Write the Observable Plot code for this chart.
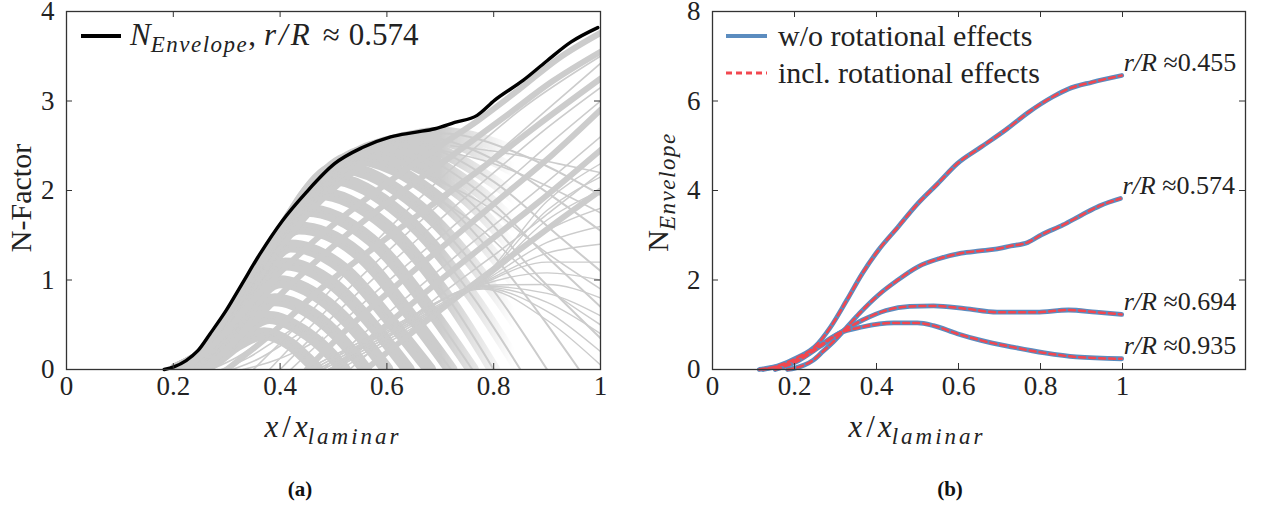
<!DOCTYPE html>
<html><head><meta charset="utf-8">
<script src="https://cdn.jsdelivr.net/npm/d3@7"></script>
<script src="https://cdn.jsdelivr.net/npm/@observablehq/plot@0.6"></script>
<style>
body{margin:0;background:#fff;width:1262px;height:508px;overflow:hidden;font-family:"Liberation Serif",serif;}
#a{position:absolute;left:0;top:0}
#b{position:absolute;left:640px;top:0}
.cap{position:absolute;top:477px;width:60px;text-align:center;font:bold 21px "Liberation Serif",serif;color:#111}
</style></head><body>
<div id="a"></div><div id="b"></div>
<div class="cap" style="left:270px">(a)</div>
<div class="cap" style="left:920px">(b)</div>
<script>
// ---------- data ----------
const xTicks = [0, 0.2, 0.4, 0.6, 0.8, 1];
const yTicksA = [0, 1, 2, 3, 4];
const yTicksB = [0, 2, 4, 6, 8];

// N-factor envelope at r/R ≈ 0.574 (panel a, black; panel b, second curve)
const envelope574 = [[0.183,0],[0.201,0.03],[0.224,0.1],[0.246,0.21],[0.269,0.40],[0.299,0.66],[0.329,0.96],[0.359,1.26],[0.404,1.66],[0.449,1.98],[0.502,2.30],[0.554,2.48],[0.607,2.60],[0.652,2.65],[0.690,2.69],[0.727,2.76],[0.769,2.84],[0.802,3.01],[0.855,3.23],[0.900,3.45],[0.945,3.66],[0.995,3.82]];

// individual N-factor curves (panel a, gray): modes that grow, peak and decay
const grayArcs = [
 [[0.245,0],[0.28,0.10],[0.32,0.28],[0.37,0.40],[0.42,0.28],[0.45,0.12],[0.47,0]],
 [[0.235,0],[0.27,0.08],[0.32,0.36],[0.38,0.58],[0.44,0.44],[0.49,0.20],[0.52,0]],
 [[0.228,0],[0.265,0.09],[0.32,0.45],[0.39,0.78],[0.46,0.62],[0.52,0.30],[0.56,0]],
 [[0.222,0],[0.26,0.10],[0.32,0.52],[0.40,0.98],[0.48,0.78],[0.55,0.38],[0.60,0]],
 [[0.216,0],[0.26,0.12],[0.32,0.58],[0.41,1.18],[0.50,0.95],[0.58,0.45],[0.64,0]],
 [[0.212,0],[0.26,0.14],[0.33,0.70],[0.42,1.38],[0.52,1.12],[0.61,0.52],[0.68,0]],
 [[0.21,0],[0.26,0.16],[0.33,0.76],[0.435,1.58],[0.545,1.30],[0.645,0.60],[0.72,0]],
 [[0.208,0],[0.26,0.17],[0.34,0.86],[0.45,1.78],[0.57,1.45],[0.68,0.68],[0.76,0]],
 [[0.207,0],[0.26,0.18],[0.34,0.88],[0.47,1.97],[0.60,1.60],[0.72,0.75],[0.80,0]],
 [[0.206,0],[0.26,0.19],[0.35,0.97],[0.49,2.14],[0.63,1.72],[0.76,0.82],[0.85,0]],
 [[0.205,0],[0.26,0.19],[0.35,0.99],[0.51,2.26],[0.66,1.82],[0.80,0.88],[0.90,0]],
 [[0.205,0],[0.26,0.19],[0.36,1.08],[0.535,2.36],[0.70,1.90],[0.85,0.90],[0.96,0]],
 [[0.205,0],[0.26,0.19],[0.37,1.17],[0.56,2.43],[0.74,1.95],[0.89,1.00],[1.0,0.35]],
 [[0.205,0],[0.26,0.19],[0.37,1.17],[0.59,2.50],[0.77,2.00],[0.91,1.20],[1.0,0.70]],
 [[0.205,0],[0.26,0.19],[0.38,1.27],[0.62,2.55],[0.80,2.10],[0.92,1.50],[1.0,1.10]],
 [[0.205,0],[0.26,0.19],[0.38,1.27],[0.66,2.60],[0.83,2.25],[0.93,1.85],[1.0,1.55]],
 [[0.205,0],[0.26,0.19],[0.39,1.36],[0.70,2.64],[0.86,2.38],[0.94,2.15],[1.0,1.95]]
];
// later-growing modes (panel a, gray bands) – keep rising towards the trailing edge
const grayRisers = [
 [[0.22,0],[0.28,0.30],[0.35,0.78],[0.42,1.20],[0.50,1.62],[0.60,2.08],[0.70,2.50],[0.77,2.78],[0.85,3.14],[0.92,3.47],[1.0,3.76]],
 [[0.26,0],[0.33,0.40],[0.42,0.95],[0.52,1.48],[0.62,1.95],[0.72,2.38],[0.82,2.82],[0.91,3.22],[1.0,3.55]],
 [[0.30,0],[0.38,0.38],[0.48,0.92],[0.58,1.38],[0.68,1.82],[0.78,2.26],[0.88,2.72],[1.0,3.25]],
 [[0.45,0],[0.52,0.42],[0.62,0.95],[0.72,1.45],[0.82,1.95],[0.91,2.40],[1.0,2.90]],
 [[0.50,0],[0.58,0.40],[0.68,0.90],[0.78,1.38],[0.88,1.85],[1.0,2.45]],
 [[0.56,0],[0.64,0.38],[0.74,0.85],[0.84,1.30],[0.93,1.70],[1.0,2.00]]
];
// thin individual curves (panel a, gray)
const grayThin = [
 [[0.35,0],[0.45,0.60],[0.55,1.25],[0.65,1.85],[0.75,2.40],[0.85,2.90],[1.0,3.50]],
 [[0.38,0],[0.48,0.62],[0.58,1.20],[0.68,1.75],[0.78,2.28],[0.88,2.80],[1.0,3.42]],
 [[0.40,0],[0.50,0.60],[0.60,1.15],[0.70,1.68],[0.80,2.20],[0.90,2.70],[1.0,3.15]],
 [[0.42,0],[0.52,0.55],[0.62,1.08],[0.72,1.58],[0.82,2.08],[0.91,2.55],[1.0,3.00]],
 [[0.48,0],[0.56,0.42],[0.66,0.92],[0.76,1.42],[0.86,1.90],[1.0,2.60]],
 [[0.53,0],[0.61,0.40],[0.71,0.88],[0.81,1.32],[0.91,1.78],[1.0,2.20]],
 [[0.27,0],[0.32,0.14],[0.37,0.34],[0.41,0.50]],
 [[0.29,0],[0.34,0.13],[0.39,0.32],[0.43,0.48]],
 [[0.31,0],[0.36,0.12],[0.41,0.30],[0.45,0.46]],
 [[0.33,0],[0.38,0.08],[0.43,0.20],[0.48,0.36]],
 [[0.70,2.45],[0.80,2.30],[0.90,2.05],[1.0,1.75]],
 [[0.72,2.50],[0.82,2.42],[0.92,2.30],[1.0,2.20]],
 [[0.66,2.20],[0.78,1.85],[0.90,1.30],[1.0,0.90]],
 [[0.64,2.10],[0.76,1.65],[0.88,1.00],[1.0,0.50]]
];
// fan of curves spreading out after x ≈ 0.78 (panel a, thin gray)
const grayFan = [
 [[0.45,0],[0.60,0.45],[0.78,0.90],[0.90,0.55],[1.0,0.05]],
 [[0.45,0],[0.60,0.45],[0.78,0.91],[0.90,0.65],[1.0,0.20]],
 [[0.46,0],[0.61,0.46],[0.78,0.92],[0.90,0.75],[1.0,0.40]],
 [[0.46,0],[0.61,0.46],[0.78,0.93],[0.90,0.85],[1.0,0.60]],
 [[0.47,0],[0.62,0.47],[0.78,0.94],[0.90,0.95],[1.0,0.80]],
 [[0.47,0],[0.62,0.47],[0.78,0.95],[0.90,1.08],[1.0,1.00]],
 [[0.48,0],[0.63,0.48],[0.78,0.96],[0.90,1.20],[1.0,1.20]],
 [[0.48,0],[0.63,0.48],[0.78,0.97],[0.90,1.30],[1.0,1.40]],
 [[0.49,0],[0.64,0.49],[0.78,0.98],[0.90,1.42],[1.0,1.60]],
 [[0.49,0],[0.64,0.49],[0.78,0.99],[0.90,1.55],[1.0,1.80]],
 [[0.50,0],[0.65,0.50],[0.78,1.00],[0.90,1.67],[1.0,2.00]],
 [[0.50,0],[0.65,0.50],[0.78,1.01],[0.90,1.78],[1.0,2.15]],
 [[0.51,0],[0.66,0.51],[0.78,1.02],[0.90,1.88],[1.0,2.30]]
];

// panel b: N envelope for four radial stations
const env455 = [[0.114,0],[0.162,0.09],[0.21,0.28],[0.249,0.50],[0.288,0.95],[0.327,1.54],[0.365,2.14],[0.404,2.66],[0.452,3.18],[0.50,3.70],[0.549,4.15],[0.597,4.60],[0.655,4.97],[0.713,5.34],[0.771,5.75],[0.829,6.09],[0.868,6.27],[0.926,6.42],[0.998,6.57]];
const env694 = [[0.153,0],[0.21,0.20],[0.26,0.50],[0.307,0.80],[0.365,1.10],[0.423,1.32],[0.481,1.41],[0.539,1.42],[0.616,1.36],[0.694,1.28],[0.79,1.28],[0.868,1.33],[0.935,1.28],[0.998,1.23]];
const env935 = [[0.124,0],[0.19,0.16],[0.249,0.46],[0.307,0.80],[0.365,0.95],[0.442,1.04],[0.50,1.04],[0.539,0.98],[0.597,0.80],[0.655,0.65],[0.732,0.50],[0.81,0.37],[0.887,0.28],[0.998,0.24]];
const stations = ["0.455", "0.574", "0.694", "0.935"];
const stationCurves = [env455, envelope574, env694, env935];

// ---------- helpers ----------
const toRows = (curves, tag) => curves.flatMap((c, i) => c.map(([x, y]) => ({id: tag + i, x, y})));
const FONT = "'Liberation Serif', serif";
const GRAY = "#cccccc";

// ---------- panel (a) ----------
const wA = 640, hA = 460, mlA = 66, mrA = 40, mtA = 11, mbA = 91;
const pwA = wA - mlA - mrA, phA = hA - mtA - mbA;
const plotA = Plot.plot({
  width: wA, height: hA, marginLeft: mlA, marginRight: mrA, marginTop: mtA, marginBottom: mbA,
  x: {domain: [0, 1]}, y: {domain: [0, 4]},
  style: {fontFamily: FONT, fontSize: "27px", color: "#222", background: "white"},
  marks: [
    Plot.line(toRows(grayArcs, "a"), {x: "x", y: "y", z: "id", stroke: GRAY, strokeWidth: 13, curve: "monotone-x", clip: true}),
    Plot.line(toRows(grayArcs, "b"), {x: "x", y: "y", z: "id", stroke: GRAY, strokeWidth: 2, curve: "monotone-x", clip: true}),
    Plot.line(toRows(grayRisers, "r"), {x: "x", y: "y", z: "id", stroke: GRAY, strokeWidth: 6, curve: "monotone-x", clip: true}),
    Plot.line(toRows(grayThin, "t"), {x: "x", y: "y", z: "id", stroke: GRAY, strokeWidth: 1.6, curve: "monotone-x", clip: true}),
    Plot.line(toRows(grayFan, "f"), {x: "x", y: "y", z: "id", stroke: GRAY, strokeWidth: 1.4, curve: "monotone-x", clip: true}),
    Plot.line(envelope574, {x: d => d[0], y: d => d[1], stroke: "black", strokeWidth: 3.4, curve: "monotone-x"}),
    Plot.frame({stroke: "#333", strokeWidth: 1.3}),
    Plot.tickX(xTicks, {x: d => d, insetTop: phA - 6, stroke: "#333"}),
    Plot.tickX(xTicks, {x: d => d, insetBottom: phA - 6, stroke: "#333"}),
    Plot.tickY(yTicksA, {y: d => d, insetRight: pwA - 6, stroke: "#333"}),
    Plot.tickY(yTicksA, {y: d => d, insetLeft: pwA - 6, stroke: "#333"}),
    Plot.axisX({ticks: xTicks, tickSize: 0, tickPadding: 6, label: null, tickFormat: d => String(d)}),
    Plot.axisY({ticks: yTicksA, tickSize: 0, tickPadding: 12, label: null, tickFormat: d => String(d)})
  ]
});
document.getElementById("a").appendChild(plotA);

// ---------- panel (b) ----------
const wB = 622, hB = 460, mlB = 72, mrB = 17, mtB = 11, mbB = 91;
const pwB = wB - mlB - mrB, phB = hB - mtB - mbB;
const rowsB = stationCurves.flatMap((c, i) => c.map(([x, y]) => ({id: stations[i], x, y})));
const endsB = stationCurves.map((c, i) => ({id: stations[i], x: c[c.length - 1][0], y: c[c.length - 1][1]}));
const plotB = Plot.plot({
  width: wB, height: hB, marginLeft: mlB, marginRight: mrB, marginTop: mtB, marginBottom: mbB,
  x: {domain: [0, 1.3]}, y: {domain: [0, 8]},
  style: {fontFamily: FONT, fontSize: "27px", color: "#222", background: "white"},
  marks: [
    Plot.line(rowsB, {x: "x", y: "y", z: "id", stroke: "#5b8cbf", strokeWidth: 4.8, curve: "monotone-x"}),
    Plot.line(rowsB, {x: "x", y: "y", z: "id", stroke: "#f2474f", strokeWidth: 2.5, strokeDasharray: "6,4", curve: "monotone-x"}),
    Plot.text(endsB, {x: "x", y: "y", text: d => "r/R ≈" + d.id, dx: 2, dy: -13, textAnchor: "start", fontSize: 26, fill: "#222"}),
    Plot.frame({stroke: "#333", strokeWidth: 1.3}),
    Plot.tickX(xTicks, {x: d => d, insetTop: phB - 6, stroke: "#333"}),
    Plot.tickX(xTicks, {x: d => d, insetBottom: phB - 6, stroke: "#333"}),
    Plot.tickY(yTicksB, {y: d => d, insetRight: pwB - 6, stroke: "#333"}),
    Plot.tickY(yTicksB, {y: d => d, insetLeft: pwB - 6, stroke: "#333"}),
    Plot.axisX({ticks: xTicks, tickSize: 0, tickPadding: 6, label: null, tickFormat: d => String(d)}),
    Plot.axisY({ticks: yTicksB, tickSize: 0, tickPadding: 12, label: null, tickFormat: d => String(d)})
  ]
});
document.getElementById("b").appendChild(plotB);

// ---------- post-render styling (real SVG text) ----------
const sA = plotA.tagName.toLowerCase() === "svg" ? plotA : plotA.querySelector("svg");
const sB = plotB.tagName.toLowerCase() === "svg" ? plotB : plotB.querySelector("svg");

// thick arc bands fade out towards the trailing edge, leaving thin lines
{
  const xs = plotA.scale("x");
  const defs = d3.select(sA).append("defs");
  const grad = defs.append("linearGradient").attr("id", "fadeA").attr("gradientUnits", "userSpaceOnUse")
    .attr("x1", xs.apply(0.70)).attr("x2", xs.apply(0.84)).attr("y1", 0).attr("y2", 0);
  grad.append("stop").attr("offset", 0).attr("stop-color", "white");
  grad.append("stop").attr("offset", 1).attr("stop-color", "black");
  const mask = defs.append("mask").attr("id", "maskA").attr("maskUnits", "userSpaceOnUse")
    .attr("x", 0).attr("y", 0).attr("width", wA).attr("height", hA);
  mask.append("rect").attr("width", wA).attr("height", hA).attr("fill", "url(#fadeA)");
  const lines = d3.select(sA).selectAll('g[aria-label="line"]').nodes();
  d3.select(lines[0]).attr("mask", "url(#maskA)");
}

function xLabel(svg, cx, y) {
  const t = d3.select(svg).append("text").attr("x", cx).attr("y", y).attr("text-anchor", "middle")
    .attr("font-family", FONT).attr("font-size", 31).attr("fill", "#222");
  t.append("tspan").attr("font-style", "italic").text("x");
  t.append("tspan").attr("dx", 4).text("/");
  t.append("tspan").attr("dx", 3).attr("font-style", "italic").text("x");
  t.append("tspan").attr("font-style", "italic").attr("font-size", 23).attr("letter-spacing", 3).attr("dy", 7).text("laminar");
}
xLabel(sA, mlA + pwA * 0.5, 437);
xLabel(sB, mlB + (pwB / 1.3) * 0.5, 437);

d3.select(sA).append("text").attr("transform", `translate(31,${mtA + phA / 2 + 8}) rotate(-90)`)
  .attr("text-anchor", "middle").attr("font-family", FONT).attr("font-size", 30).attr("fill", "#222").text("N-Factor");
{
  const t = d3.select(sB).append("text").attr("transform", `translate(28,${mtB + phB / 2 + 2}) rotate(-90)`)
    .attr("text-anchor", "middle").attr("font-family", FONT).attr("font-size", 30).attr("fill", "#222");
  t.append("tspan").text("N");
  t.append("tspan").attr("font-style", "italic").attr("font-size", 23).attr("letter-spacing", 1.5).attr("dy", 7).text("Envelope");
}

// station labels: r/R italic + value upright
d3.select(sB).selectAll("text").each(function () {
  const s = this.textContent;
  if (s.startsWith("r/R")) {
    const v = s.slice(3).trim();
    const el = d3.select(this); el.text(null);
    el.append("tspan").attr("font-style", "italic").text("r/R ");
    el.append("tspan").text(v);
  }
});

// legend (a)
{
  const g = d3.select(sA).append("g").attr("font-family", FONT).attr("fill", "#222").attr("text-anchor", "start");
  g.append("line").attr("x1", 81).attr("x2", 121).attr("y1", 36).attr("y2", 36).attr("stroke", "black").attr("stroke-width", 4);
  const t = g.append("text").attr("x", 130).attr("y", 45).attr("font-size", 31).attr("text-anchor", "start");
  t.append("tspan").attr("font-style", "italic").text("N");
  t.append("tspan").attr("font-style", "italic").attr("font-size", 23).attr("letter-spacing", 1.5).attr("dy", 7).text("Envelope");
  t.append("tspan").attr("dy", -7).text(",");
  t.append("tspan").attr("dx", 8).attr("font-style", "italic").attr("letter-spacing", 3).text("r/R");
  t.append("tspan").attr("dx", 10).text("≈");
  t.append("tspan").attr("dx", 9).text("0.574");
}
// legend (b)
{
  const g = d3.select(sB).append("g").attr("font-family", FONT).attr("fill", "#222").attr("font-size", 30).attr("text-anchor", "start");
  g.append("line").attr("x1", 86).attr("x2", 127).attr("y1", 36).attr("y2", 36).attr("stroke", "#5b8cbf").attr("stroke-width", 4);
  g.append("text").attr("x", 138).attr("y", 46).attr("text-anchor", "start").text("w/o rotational effects");
  g.append("line").attr("x1", 86).attr("x2", 127).attr("y1", 73).attr("y2", 73).attr("stroke", "#f2474f").attr("stroke-width", 3).attr("stroke-dasharray", "6,4");
  g.append("text").attr("x", 138).attr("y", 83).attr("text-anchor", "start").text("incl. rotational effects");
}
</script></body></html>
